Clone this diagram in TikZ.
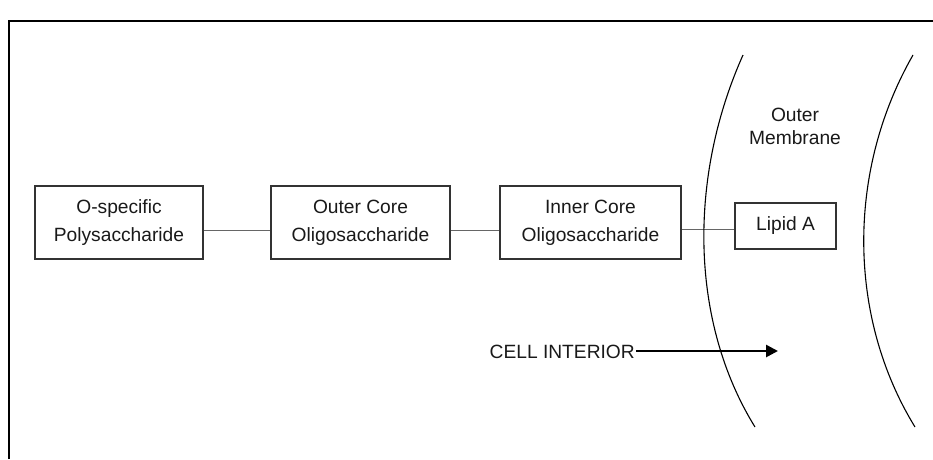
\documentclass[tikz,border=0pt]{standalone}
\usepackage{fontspec}
\setmainfont{Liberation Sans}
\usetikzlibrary{arrows.meta}
\begin{document}
\begin{tikzpicture}[x=1pt,y=-1pt,
  lbl/.style={font=\fontsize{19.2}{28}\selectfont, text=black!90},
  boxn/.style={draw=black!80, line width=1.3pt, lbl, align=center, inner sep=0pt},
  link/.style={draw=black!60, line width=0.9pt},
  memb/.style={draw=black, line width=1.1pt}]
\useasboundingbox (0,0) rectangle (933,459);
\draw[line width=1.6pt] (9,459) -- (9,21) -- (933,21);
% boxes
\node[boxn, minimum width=168pt, minimum height=73pt] (osp) at (119,222.5) {O-specific\\Polysaccharide};
\node[boxn, minimum width=179pt, minimum height=73pt] (occ) at (360.5,222.5) {Outer Core\\Oligosaccharide};
\node[boxn, minimum width=181pt, minimum height=73pt] (icc) at (590.5,222.5) {Inner Core\\Oligosaccharide};
\node[boxn, minimum width=101pt, minimum height=46pt] (lipa) at (785.5,226) {Lipid A};
% connectors
\draw[link] (osp.east |- 0,230) -- (occ.west |- 0,230);
\draw[link] (occ.east |- 0,230) -- (icc.west |- 0,230);
\draw[link] (icc.east |- 0,229) -- (lipa.west |- 0,229);
% membrane
\draw[memb] (743,55) .. controls (688,178) and (690,322) .. (755,427);
\draw[memb] (913,55) .. controls (846,172) and (848,318) .. (915,427);
\node[lbl, font=\fontsize{19.2}{23}\selectfont, align=center] (om) at (795,126.5) {Outer\\Membrane};
% cell interior
\node[lbl, anchor=east, inner sep=0pt] (ci) at (635,352) {CELL INTERIOR};
\coordinate (tip) at (778,351);
\draw[line width=2.6pt, -{Triangle[length=12pt,width=12pt]}] (ci.east) ++(1,-1) -- (tip);
\end{tikzpicture}
\end{document}
